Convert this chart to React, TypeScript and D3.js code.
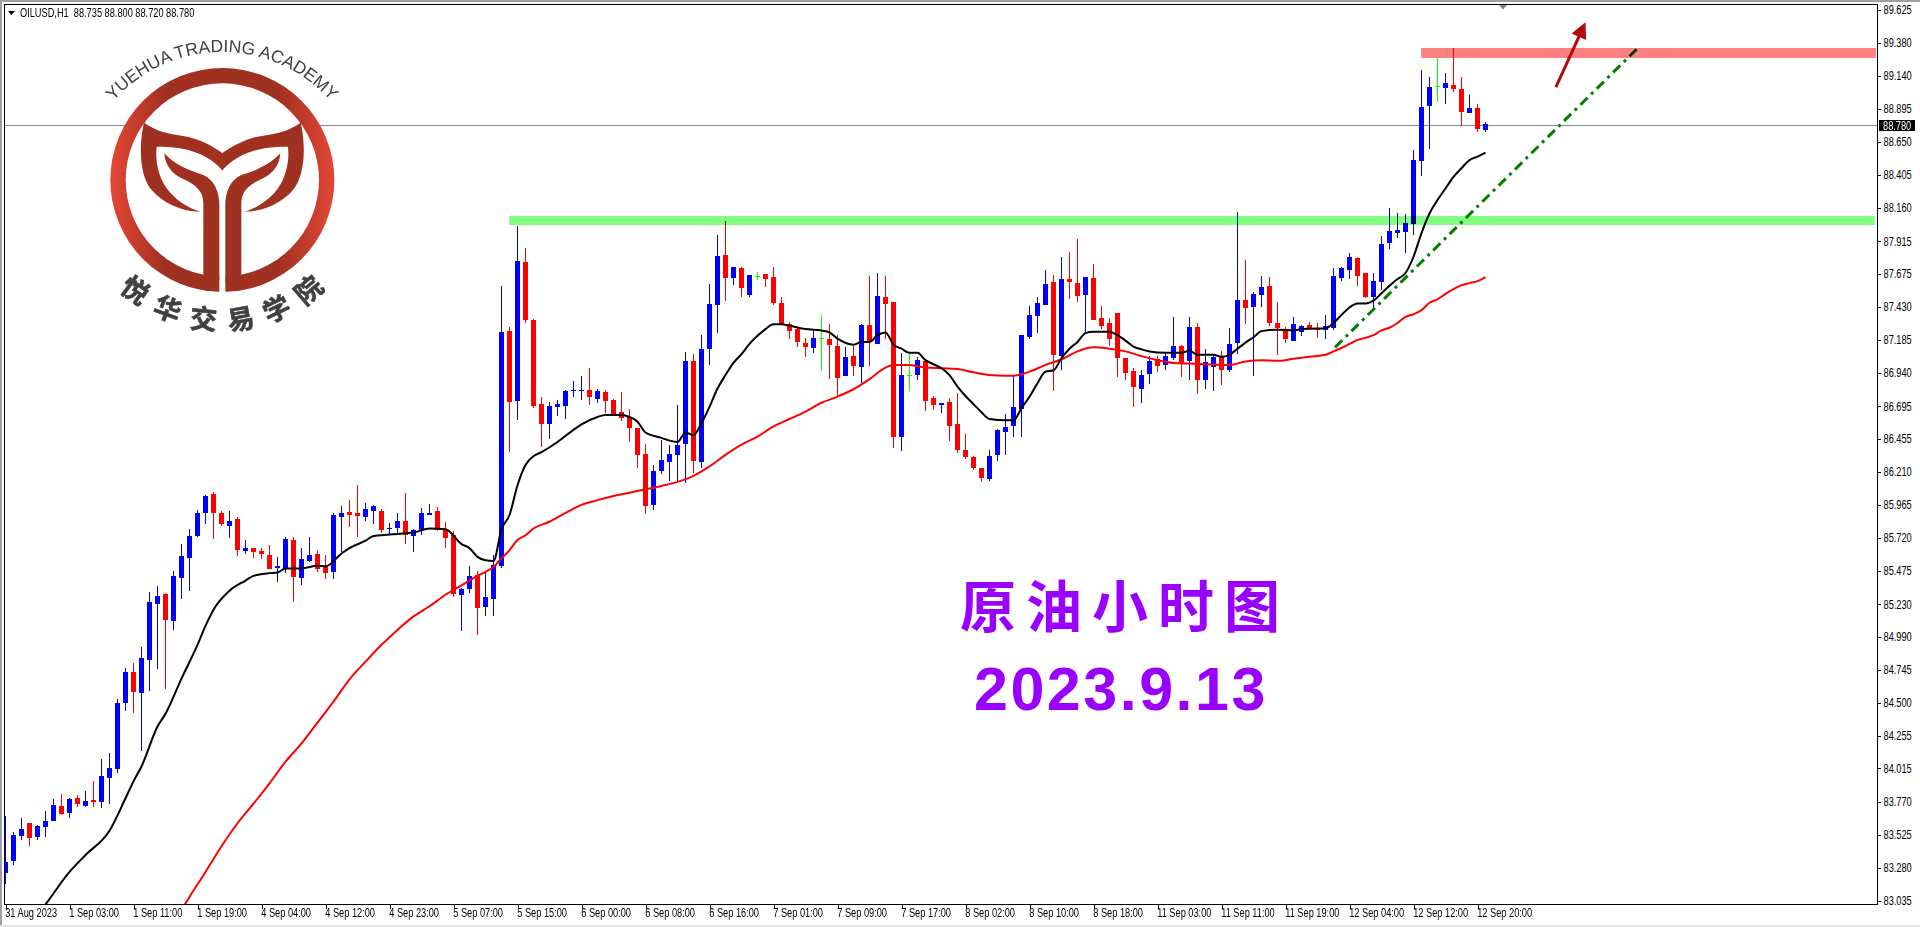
import React, { useEffect, useRef } from "react";
import * as d3 from "d3";

// OILUSD H1, prices
const opens = [
  83.245,83.33,83.515,83.61,83.51,83.58,83.625,83.735,83.685,83.795,
  83.735,83.78,83.765,83.945,84.01,84.50,84.73,84.575,84.815,85.23,
  85.305,85.105,85.425,85.57,85.735,85.905,86.045,85.905,85.81,85.86,
  85.625,85.645,85.625,85.595,85.50,85.49,85.705,85.425,85.55,85.60,
  85.51,85.47,85.875,85.91,85.905,85.875,85.92,85.92,85.785,85.795,
  85.845,85.735,85.78,85.89,85.92,85.785,85.74,85.30,85.34,85.445,
  85.21,85.27,85.51,87.25,86.73,87.76,87.33,86.71,86.56,86.69,
  86.695,86.81,86.81,86.815,86.75,86.80,86.74,86.65,86.615,86.535,
  86.34,85.965,86.215,86.28,86.335,86.415,87.03,86.28,87.12,87.445,
  87.815,87.645,87.715,87.515,87.66,87.67,87.65,87.46,87.30,87.265,
  87.16,87.125,87.20,87.19,87.14,86.92,87.065,86.985,87.295,87.155,
  87.50,87.465,86.465,86.925,86.925,87.03,86.755,86.705,86.725,86.56,
  86.37,86.32,86.24,86.155,86.335,86.505,86.55,86.675,87.205,87.36,
  87.445,87.615,87.065,87.635,87.605,87.515,87.645,87.345,87.31,87.385,
  87.05,86.955,86.82,86.93,87.045,87.00,87.05,87.14,87.03,87.28,
  86.89,86.985,87.06,86.96,87.16,87.48,87.43,87.515,87.585,87.31,
  87.265,87.175,87.245,87.295,87.265,87.26,87.27,87.645,87.70,87.79,
  87.68,87.505,87.615,87.90,87.975,87.985,88.04,88.51,88.915,89.06,
  89.05,89.07,89.04,88.865,88.90,88.735,
];
const closes = [
  83.325,83.525,83.565,83.50,83.59,83.625,83.745,83.68,83.79,83.75,
  83.775,83.77,83.96,84.02,84.50,84.73,84.58,84.83,85.245,85.29,
  85.115,85.44,85.585,85.735,85.905,86.03,85.905,85.825,85.845,85.63,
  85.645,85.615,85.60,85.49,85.51,85.71,85.43,85.565,85.595,85.49,
  85.46,85.89,85.905,85.89,85.88,85.935,85.955,85.78,85.795,85.845,
  85.74,85.78,85.905,85.905,85.78,85.72,85.305,85.34,85.44,85.20,
  85.285,85.52,87.245,86.725,87.77,87.33,86.695,86.56,86.695,86.71,
  86.805,86.815,86.815,86.76,86.805,86.73,86.63,86.61,86.535,86.335,
  85.955,86.215,86.295,86.34,86.41,87.03,86.29,87.12,87.45,87.805,
  87.645,87.725,87.57,87.665,87.66,87.635,87.46,87.30,87.25,87.17,
  87.13,87.20,87.20,87.15,86.905,87.06,86.99,87.295,87.17,87.51,
  87.45,86.465,86.925,86.925,87.035,86.73,86.705,86.72,86.55,86.37,
  86.32,86.24,86.165,86.325,86.52,86.54,86.69,87.22,87.37,87.46,
  87.60,87.075,87.635,87.615,87.51,87.65,87.33,87.29,87.19,87.05,
  86.94,86.835,86.925,87.03,86.99,87.065,87.14,87.015,87.28,86.89,
  87.02,87.06,86.96,87.155,87.48,87.42,87.525,87.575,87.31,87.27,
  87.19,87.30,87.29,87.265,87.26,87.29,87.66,87.715,87.80,87.66,
  87.505,87.62,87.895,87.99,88.00,88.05,88.515,88.91,89.055,89.06,
  89.085,89.04,88.87,88.90,88.745,88.78,
];
const highs = [
  83.665,83.545,83.65,83.61,83.595,83.70,83.79,83.825,83.795,83.82,
  83.85,83.92,84.085,84.13,84.53,84.76,84.795,84.915,85.32,85.365,
  85.31,85.475,85.675,85.785,85.925,86.04,86.06,85.92,85.92,85.875,
  85.705,85.645,85.645,85.67,85.58,85.725,85.725,85.645,85.725,85.63,
  85.595,85.905,85.955,86.00,86.11,85.98,85.965,85.935,85.83,85.905,
  86.05,85.785,85.94,85.97,85.95,85.84,85.77,85.35,85.51,85.475,
  85.47,85.595,87.585,87.28,88.03,87.865,87.34,86.76,86.725,86.74,
  86.815,86.88,86.92,86.975,86.82,86.815,86.75,86.80,86.675,86.535,
  86.415,86.26,86.445,86.41,86.705,87.095,87.08,87.22,87.60,87.96,
  88.065,87.725,87.725,87.665,87.685,87.67,87.725,87.50,87.32,87.27,
  87.20,87.25,87.37,87.30,87.22,87.13,87.14,87.30,87.66,87.68,
  87.66,87.465,87.09,87.09,87.06,87.03,86.77,86.72,86.755,86.79,
  86.49,86.325,86.24,86.37,86.525,86.635,86.915,87.22,87.435,87.50,
  87.70,87.665,87.80,87.835,87.93,87.65,87.745,87.435,87.345,87.385,
  87.05,86.975,86.96,87.065,87.065,87.09,87.355,87.15,87.355,87.31,
  87.12,87.08,87.10,87.27,88.13,87.775,87.54,87.66,87.65,87.465,
  87.28,87.355,87.295,87.32,87.31,87.37,87.715,87.725,87.83,87.80,
  87.68,87.68,87.955,88.16,88.125,88.115,88.59,89.18,89.13,89.27,
  89.16,89.345,89.13,89.00,88.93,88.80,
];
const lows = [
  83.16,83.30,83.485,83.44,83.485,83.51,83.625,83.67,83.65,83.73,
  83.73,83.73,83.72,83.75,83.98,84.44,84.425,84.145,84.59,84.75,
  84.60,85.04,85.27,85.33,85.725,85.825,85.71,85.81,85.72,85.585,
  85.60,85.57,85.565,85.49,85.395,85.46,85.245,85.37,85.54,85.47,
  85.415,85.415,85.615,85.80,85.725,85.845,85.825,85.755,85.75,85.755,
  85.675,85.615,85.74,85.89,85.77,85.645,85.285,85.03,85.31,85.00,
  85.145,85.145,85.50,86.355,86.59,87.31,86.68,86.39,86.45,86.62,
  86.60,86.76,86.74,86.705,86.72,86.645,86.63,86.585,86.43,86.24,
  85.90,85.925,86.19,86.14,86.14,86.125,86.20,86.24,87.00,87.235,
  87.47,87.59,87.50,87.50,87.63,87.575,87.445,87.30,87.19,87.13,
  87.06,87.09,86.955,86.895,86.76,86.92,86.92,86.865,86.99,87.155,
  87.19,86.385,86.365,86.805,86.89,86.66,86.665,86.645,86.435,86.35,
  86.305,86.22,86.135,86.14,86.29,86.335,86.465,86.465,87.19,87.235,
  87.445,86.805,86.96,87.49,87.465,87.245,87.33,87.265,87.14,86.91,
  86.89,86.69,86.72,86.86,86.945,86.96,87.035,86.91,86.89,86.785,
  86.82,86.805,86.85,86.945,87.08,87.30,86.92,87.43,87.29,87.075,
  87.16,87.175,87.215,87.26,87.20,87.19,87.26,87.62,87.635,87.585,
  87.495,87.42,87.555,87.855,87.94,87.83,87.96,88.395,88.595,88.945,
  88.93,89.02,88.765,88.865,88.72,88.72,
];

// [bar index, price]
const blackMa: [number, number][] = [
  [4,82.935],[5,83.01],[8,83.25],[10,83.375],[13,83.555],[15,83.795],[16,83.92],[17,84.03],[19,84.325],[20,84.42],
  [22,84.68],[24,84.93],[25,85.07],[26,85.19],[28,85.33],[30,85.405],[31,85.44],[33,85.46],[34,85.465],[35,85.495],
  [37,85.495],[39,85.515],[40,85.51],[42,85.605],[43,85.645],[45,85.70],[46,85.735],[48,85.745],[50,85.755],[51,85.76],
  [53,85.79],[55,85.785],[57,85.675],[58,85.645],[59,85.58],[60,85.555],[61,85.55],[62,85.785],[63,85.89],[64,86.11],
  [65,86.26],[66,86.325],[67,86.355],[69,86.43],[71,86.52],[72,86.56],[74,86.615],[75,86.63],[77,86.63],[78,86.615],
  [79,86.58],[80,86.50],[82,86.46],[83,86.44],[84,86.43],[85,86.50],[86,86.48],[87,86.57],[88,86.69],[89,86.825],
  [90,86.925],[91,87.015],[92,87.08],[93,87.155],[94,87.215],[95,87.265],[96,87.30],[97,87.30],[98,87.29],[100,87.265],
  [102,87.255],[103,87.24],[104,87.195],[106,87.15],[107,87.17],[108,87.17],[109,87.22],[110,87.24],[111,87.15],[112,87.12],
  [113,87.09],[114,87.09],[115,87.035],[116,87.005],[117,86.975],[118,86.925],[119,86.84],[120,86.77],[121,86.71],[122,86.65],
  [123,86.60],[125,86.59],[126,86.59],[127,86.68],[128,86.765],[129,86.865],[130,86.95],[131,86.96],[132,87.05],[133,87.12],
  [134,87.17],[135,87.235],[136,87.245],[138,87.245],[139,87.22],[140,87.18],[141,87.135],[142,87.115],[143,87.10],[145,87.09],
  [147,87.09],[148,87.105],[149,87.075],[151,87.075],[152,87.06],[153,87.075],[154,87.12],[155,87.165],[156,87.205],[157,87.25],
  [159,87.26],[161,87.255],[162,87.265],[164,87.27],[165,87.27],[166,87.31],[167,87.37],[168,87.425],[169,87.455],[170,87.455],
  [171,87.475],[172,87.53],[173,87.585],[174,87.635],[175,87.68],[176,87.80],[177,87.975],[178,88.12],[179,88.22],[180,88.305],
  [181,88.39],[182,88.455],[183,88.515],[184,88.54],[185,88.57],
];
const redMa: [number, number][] = [
  [22,82.97],[23,83.065],[25,83.25],[27,83.44],[29,83.61],[31,83.755],[33,83.905],[35,84.065],[37,84.20],[39,84.355],
  [41,84.51],[43,84.675],[45,84.805],[47,84.93],[49,85.04],[51,85.14],[53,85.215],[55,85.30],[57,85.37],[59,85.44],
  [60,85.47],[61,85.505],[62,85.57],[63,85.63],[64,85.705],[65,85.74],[66,85.79],[68,85.84],[70,85.905],[72,85.965],
  [74,86.00],[76,86.03],[78,86.055],[80,86.08],[82,86.105],[84,86.135],[86,86.18],[88,86.25],[90,86.335],[92,86.41],
  [94,86.47],[96,86.545],[98,86.60],[100,86.655],[102,86.72],[104,86.765],[106,86.82],[108,86.895],[110,86.98],[111,87.00],
  [113,87.00],[114,86.99],[115,86.98],[117,86.975],[119,86.97],[121,86.945],[123,86.925],[125,86.92],[126,86.92],[128,86.95],
  [130,87.00],[132,87.04],[134,87.10],[136,87.13],[138,87.12],[140,87.10],[142,87.065],[144,87.035],[146,87.015],[148,87.01],
  [150,87.005],[152,87.00],[153,87.00],[155,87.025],[157,87.035],[159,87.03],[161,87.045],[163,87.06],[165,87.075],[166,87.10],
  [167,87.125],[168,87.155],[169,87.185],[170,87.20],[171,87.22],[172,87.255],[173,87.275],[174,87.31],[175,87.355],[176,87.375],
  [177,87.405],[178,87.46],[179,87.485],[180,87.525],[181,87.56],[182,87.59],[183,87.605],[184,87.62],[185,87.65],
];

const priceTicks = [
  89.625,89.38,89.14,88.895,88.65,88.405,88.16,87.915,87.675,87.43,87.185,86.94,86.695,86.455,
  86.21,85.965,85.72,85.475,85.23,84.99,84.745,84.5,84.255,84.015,83.77,83.525,83.28,83.035,
];
const timeLabels = [
  "31 Aug 2023","1 Sep 03:00","1 Sep 11:00","1 Sep 19:00","4 Sep 04:00","4 Sep 12:00","4 Sep 23:00","5 Sep 07:00",
  "5 Sep 15:00","6 Sep 00:00","6 Sep 08:00","6 Sep 16:00","7 Sep 01:00","7 Sep 09:00","7 Sep 17:00","8 Sep 02:00",
  "8 Sep 10:00","8 Sep 18:00","11 Sep 03:00","11 Sep 11:00","11 Sep 19:00","12 Sep 04:00","12 Sep 12:00","12 Sep 20:00",
];

const lastPrice = 88.78;
const greenZone = { from: 62.96, to: 233.7, top: 88.101, bottom: 88.035 };
const redZone = { from: 176.96, to: 233.8, top: 89.344, bottom: 89.27 };
const trendLine: [number, number][] = [[166.2, 87.13], [204.3, 89.359]];
const arrowLine: [number, number][] = [[193.8, 89.055], [197.5, 89.535]];

const axisFont = "'Liberation Sans', sans-serif";
const squeeze = 0.77; // the platform font is much narrower than anything installed

export default function App() {
  const svgRef = useRef<SVGSVGElement | null>(null);

  useEffect(() => {
    const width = 1920;
    const height = 927;
    const left = 4.5;
    const right = 1877.5;
    const top = 4.5;
    const bottom = 904.5;

    const x = d3.scaleLinear().domain([0, 233]).range([5.5, 5.5 + 8 * 233]);
    const y = d3.scaleLinear().domain([89.625, 83.035]).range([10, 901]);

    const svg = d3.select(svgRef.current);
    svg.selectAll("*").remove();

    svg.append("rect").attr("width", width).attr("height", height).attr("fill", "#fff");

    const defs = svg.append("defs");
    defs.append("clipPath").attr("id", "plot")
      .append("rect").attr("x", left + 0.5).attr("y", top).attr("width", right - left - 0.5).attr("height", bottom - top);
    const grad = defs.append("linearGradient").attr("id", "logoGrad").attr("x1", 0).attr("x2", 1).attr("y1", 0).attr("y2", 0);
    grad.append("stop").attr("offset", "0%").attr("stop-color", "#e44736");
    grad.append("stop").attr("offset", "25%").attr("stop-color", "#a03020");
    grad.append("stop").attr("offset", "75%").attr("stop-color", "#a03020");
    grad.append("stop").attr("offset", "100%").attr("stop-color", "#e44736");

    // window frame
    svg.append("rect").attr("x", 0).attr("y", 0).attr("width", width).attr("height", 2).attr("fill", "#a0a0a0");
    svg.append("rect").attr("x", 0).attr("y", 0).attr("width", 2).attr("height", height - 2).attr("fill", "#a0a0a0");
    svg.append("rect").attr("x", 0).attr("y", 925).attr("width", width).attr("height", 2).attr("fill", "#e4e4e4");

    const plot = svg.append("g").attr("clip-path", "url(#plot)");

    // price line behind everything
    plot.append("line")
      .attr("x1", left).attr("x2", right)
      .attr("y1", Math.ceil(y(lastPrice)) + 0.5).attr("y2", Math.ceil(y(lastPrice)) + 0.5)
      .attr("stroke", "#778899").attr("stroke-width", 1);

    const bars = d3.range(opens.length);
    const barColor = (i: number) =>
      closes[i] > opens[i] ? "#0000ff" : closes[i] < opens[i] ? "#ff0000" : "#00ff00";

    const candles = plot.append("g").attr("shape-rendering", "crispEdges");
    candles.selectAll("line").data(bars).join("line")
      .attr("x1", (i) => x(i)).attr("x2", (i) => x(i))
      .attr("y1", (i) => y(highs[i])).attr("y2", (i) => y(lows[i]))
      .attr("stroke", barColor).attr("stroke-width", 1);
    candles.selectAll("rect").data(bars).join("rect")
      .attr("x", (i) => x(i) - 2.5).attr("width", 5)
      .attr("y", (i) => y(Math.max(opens[i], closes[i])))
      .attr("height", (i) => Math.max(1, Math.abs(y(opens[i]) - y(closes[i]))))
      .attr("fill", barColor);

    const line = d3.line<[number, number]>().x((d) => x(d[0])).y((d) => y(d[1]));
    const smooth = d3.line<[number, number]>().x((d) => x(d[0])).y((d) => y(d[1])).curve(d3.curveMonotoneX);
    plot.append("path").attr("d", smooth(redMa)).attr("fill", "none").attr("stroke", "#ff0000").attr("stroke-width", 2);
    plot.append("path").attr("d", smooth(blackMa)).attr("fill", "none").attr("stroke", "#000").attr("stroke-width", 2);

    plot.append("path").attr("d", line(trendLine)).attr("fill", "none")
      .attr("stroke", "#008000").attr("stroke-width", 3).attr("stroke-dasharray", "10 5 3 5");

    // support / resistance zones, multiplied so the candles show through darker
    [{ z: greenZone, c: "#80ff80" }, { z: redZone, c: "#ff8080" }].forEach(({ z, c }) => {
      plot.append("rect")
        .attr("x", x(z.from)).attr("width", x(z.to) - x(z.from))
        .attr("y", y(z.top)).attr("height", y(z.bottom) - y(z.top))
        .attr("fill", c).style("mix-blend-mode", "multiply");
    });

    // arrow
    const [a0, a1] = arrowLine;
    const ax0 = x(a0[0]), ay0 = y(a0[1]), ax1 = x(a1[0]), ay1 = y(a1[1]);
    const ang = Math.atan2(ay1 - ay0, ax1 - ax0);
    plot.append("line")
      .attr("x1", ax0).attr("y1", ay0)
      .attr("x2", ax1 - 10 * Math.cos(ang)).attr("y2", ay1 - 10 * Math.sin(ang))
      .attr("stroke", "#b40a0a").attr("stroke-width", 3);
    const headLen = 16, headW = 8;
    const hx = ax1 - headLen * Math.cos(ang), hy = ay1 - headLen * Math.sin(ang);
    plot.append("path")
      .attr("d", `M${ax1},${ay1} L${hx + headW * Math.sin(ang)},${hy - headW * Math.cos(ang)} L${hx - headW * Math.sin(ang)},${hy + headW * Math.cos(ang)} Z`)
      .attr("fill", "#b40a0a");

    // frame and axes
    svg.append("rect").attr("x", left).attr("y", top).attr("width", right - left).attr("height", bottom - top)
      .attr("fill", "none").attr("stroke", "#000").attr("shape-rendering", "crispEdges");

    const yAxis = svg.append("g").attr("transform", `translate(${right},0)`)
      .call(d3.axisRight(y).tickValues(priceTicks).tickFormat(d3.format(".3f")).tickSize(3).tickPadding(3));
    yAxis.select(".domain").remove();
    yAxis.selectAll("text")
      .attr("font-family", axisFont).attr("font-size", 12).attr("fill", "#000")
      .attr("x", 6 / squeeze).attr("transform", `scale(${squeeze},1)`);
    yAxis.selectAll("line").attr("stroke", "#000").attr("shape-rendering", "crispEdges");

    const xAxis = svg.append("g").attr("transform", `translate(0,${bottom})`)
      .call(
        d3.axisBottom(x)
          .tickValues(timeLabels.map((_, i) => i * 8))
          .tickFormat((d) => timeLabels[+d / 8])
          .tickSize(4)
          .tickPadding(0)
      );
    xAxis.select(".domain").remove();
    xAxis.selectAll("line").attr("stroke", "#000").attr("shape-rendering", "crispEdges");
    xAxis.selectAll("text")
      .attr("font-family", axisFont).attr("font-size", 12).attr("fill", "#000")
      .attr("text-anchor", "start").attr("dx", -1)
      .attr("transform", `scale(${squeeze},1)`);

    // last price tag
    const tagY = Math.ceil(y(lastPrice));
    svg.append("rect").attr("x", 1879).attr("y", tagY - 5).attr("width", 36).attr("height", 11).attr("fill", "#000");
    svg.append("text").attr("transform", `translate(1883,${tagY + 4.5}) scale(${squeeze},1)`)
      .attr("font-family", axisFont).attr("font-size", 12).attr("fill", "#fff").text(d3.format(".3f")(lastPrice));

    // header
    svg.append("path").attr("d", "M8,11 L15,11 L11.5,15 Z").attr("fill", "#000");
    svg.append("text").attr("transform", `translate(20,17) scale(${squeeze},1)`)
      .attr("font-family", axisFont).attr("font-size", 12).attr("fill", "#000")
      .attr("xml:space", "preserve")
      .text("OILUSD,H1  88.735 88.800 88.720 88.780");
    svg.append("path").attr("d", "M1499,5 L1507,5 L1503,9.5 Z").attr("fill", "#778899");

    // logo, drawn in a 3x grid
    const logo = svg.append("g").attr("transform", "scale(0.33333)");
    logo.append("circle").attr("cx", 667).attr("cy", 540).attr("r", 336).attr("fill", "url(#logoGrad)");
    logo.append("circle").attr("cx", 667).attr("cy", 540).attr("r", 290).attr("fill", "#fff");
    logo.append("rect").attr("x", 658).attr("y", 600).attr("width", 18).attr("height", 290).attr("fill", "#fff");
    const wing = "M432,368 C470,395 510,402 545,407 C600,415 640,440 668,460 L668,512 C640,480 600,455 540,445 C515,441 490,440 470,440 C465,480 475,530 500,565 C525,600 565,625 600,635 C545,635 490,610 455,570 C420,530 415,440 432,368 Z";
    const stem = "M493,460 C520,490 560,510 610,525 C645,540 658,580 658,615 L658,840 C655,860 640,873 625,873 L610,870 L610,610 C610,575 590,555 545,535 C515,520 495,495 493,460 Z";
    [wing, stem].forEach((d) => {
      logo.append("path").attr("d", d).attr("fill", "#a03020");
      logo.append("path").attr("d", d).attr("fill", "#a03020").attr("transform", "translate(1334,0) scale(-1,1)");
    });

    defs.append("path").attr("id", "arcTop").attr("d", "M77,197 A145,145 0 0 1 367,197");
    defs.append("path").attr("id", "arcBottom").attr("d", "M72,180 A150,150 0 0 0 372,180");
    svg.append("text").attr("font-family", "'Liberation Sans', sans-serif").attr("font-size", 17.5).attr("fill", "#404040")
      .append("textPath").attr("href", "#arcTop").attr("startOffset", "50%").attr("text-anchor", "middle")
      .text("YUEHUA TRADING ACADEMY");
    svg.append("text").attr("font-family", "'Noto Sans CJK SC', sans-serif").attr("font-weight", 700).attr("font-size", 27)
      .attr("fill", "#404040").attr("stroke", "#404040").attr("stroke-width", 0.6).attr("letter-spacing", 13)
      .append("textPath").attr("href", "#arcBottom").attr("startOffset", "51.5%").attr("text-anchor", "middle")
      .text("悦华交易学院");

    // titles
    svg.append("text").attr("x", 960).attr("y", 627)
      .attr("font-family", "'Noto Sans CJK SC', sans-serif").attr("font-size", 56).attr("font-weight", 700)
      .attr("letter-spacing", 10).attr("fill", "#9900ff").text("原油小时图");
    svg.append("text").attr("x", 974).attr("y", 710)
      .attr("font-family", "'Liberation Sans', sans-serif").attr("font-size", 61).attr("font-weight", 700)
      .attr("letter-spacing", 2.5).attr("fill", "#9900ff").text("2023.9.13");
  }, []);

  return (
    <svg
      ref={svgRef}
      width={1920}
      height={927}
      style={{ position: "absolute", left: 0, top: 0, display: "block" }}
    />
  );
}
